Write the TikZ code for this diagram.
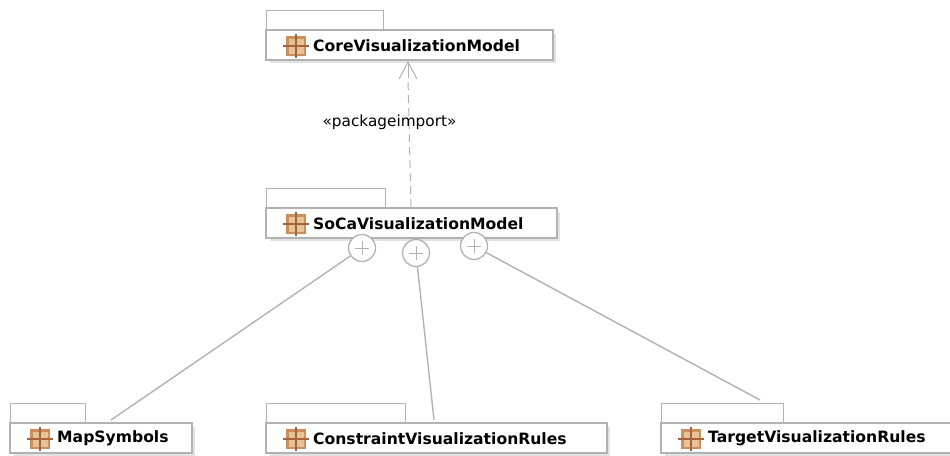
\documentclass[tikz,border=0pt]{standalone}
\usepackage{fontspec}
\setmainfont{DejaVu Sans}
\usepackage{tikz}
\usetikzlibrary{calc}
\usetikzlibrary{arrows.meta}
\definecolor{umlgray}{HTML}{B2B2B2}
\definecolor{umlshadow}{HTML}{E2E2E2}
\definecolor{iconfill}{HTML}{C98F5F}
\definecolor{iconinner}{HTML}{E6C296}
\definecolor{iconline}{HTML}{A5633C}
\tikzset{
  pkgbody/.style={draw=umlgray, line width=1.8pt, fill=white, anchor=north west, inner sep=0pt, outer sep=0pt},
  pkgtab/.style={draw=umlgray, line width=0.8pt, fill=white, anchor=south west, inner sep=0pt, outer sep=0pt},
  pkgname/.style={anchor=west, inner sep=0pt, font=\bfseries\fontsize{15.6}{17}\selectfont, text=black},
  pluscircle/.style={circle, draw=umlgray, line width=1.3pt, fill=white, minimum size=27pt, inner sep=0pt},
  link/.style={draw=umlgray, line width=1.4pt},
  importlink/.style={draw=umlgray, line width=1pt, dash pattern=on 8pt off 5pt}
}
% #1 name, #2 left, #3 top, #4 width, #5 tab width, #6 label
\newcommand{\pkg}[6]{
  \fill[umlshadow] (#2+4, #3+4) rectangle (#2+#4+3, #3+33);
  \node[pkgtab, minimum width=#5pt, minimum height=20pt] (#1tab) at (#2, #3) {};
  \node[pkgbody, minimum width=#4pt, minimum height=30pt] (#1) at (#2, #3) {};
  \fill[iconfill] (#2+20, #3+6) rectangle (#2+40, #3+26);
  \fill[iconinner] (#2+22.5, #3+8.5) rectangle (#2+37.5, #3+23.5);
  \draw[iconline, line width=1.3pt] (#2+17, #3+16) -- (#2+43, #3+16) (#2+30, #3+4) -- (#2+30, #3+28);
  \node[pkgname] (#1name) at (#2+47, #3+15.5) {#6};
}
% #1 name, #2 x, #3 y
\newcommand{\plusnode}[3]{
  \node[pluscircle] (#1) at (#2, #3) {};
  \draw[umlgray, line width=0.8pt] (#2-7, #3) -- (#2+7, #3) (#2, #3-7) -- (#2, #3+7);
}
\begin{document}
\begin{tikzpicture}[x=1pt, y=-1pt]
  \useasboundingbox (0,0) rectangle (950,455);
  % top row
  \pkg{core}{266}{30}{287}{117}{CoreVisualizationModel}
  % middle row
  \pkg{soca}{266}{208}{291}{119}{SoCaVisualizationModel}
  % bottom row
  \pkg{map}{10}{423}{182}{75}{MapSymbols}
  \pkg{constraint}{266}{423}{341}{139}{ConstraintVisualizationRules}
  \pkg{target}{661}{423}{295}{122}{TargetVisualizationRules}
  % containment
  \plusnode{plusmap}{362}{248}
  \plusnode{plusconstraint}{416}{253}
  \plusnode{plustarget}{474}{246}
  \draw[link] (plusmap) -- ([xshift=101pt, yshift=3pt]map.north west);
  \draw[link] (plusconstraint) -- ([xshift=168pt, yshift=3pt]constraint.north west);
  \draw[link] (plustarget) -- ([xshift=99pt, yshift=23pt]target.north west);
  % import
  \draw[importlink] ([xshift=145pt, yshift=1pt]soca.north west) -- ([xshift=142pt, yshift=-18pt]core.south west);
  \draw[umlgray, line width=1pt, -{Straight Barb[length=17pt, width=18pt]}] ([xshift=142pt, yshift=-18pt]core.south west) -- ([xshift=142pt, yshift=-1pt]core.south west);
  \node[inner sep=0pt, font=\fontsize{15.3}{17}\selectfont] (importlabel) at (389.5, 122) {«packageimport»};
\end{tikzpicture}
\end{document}
